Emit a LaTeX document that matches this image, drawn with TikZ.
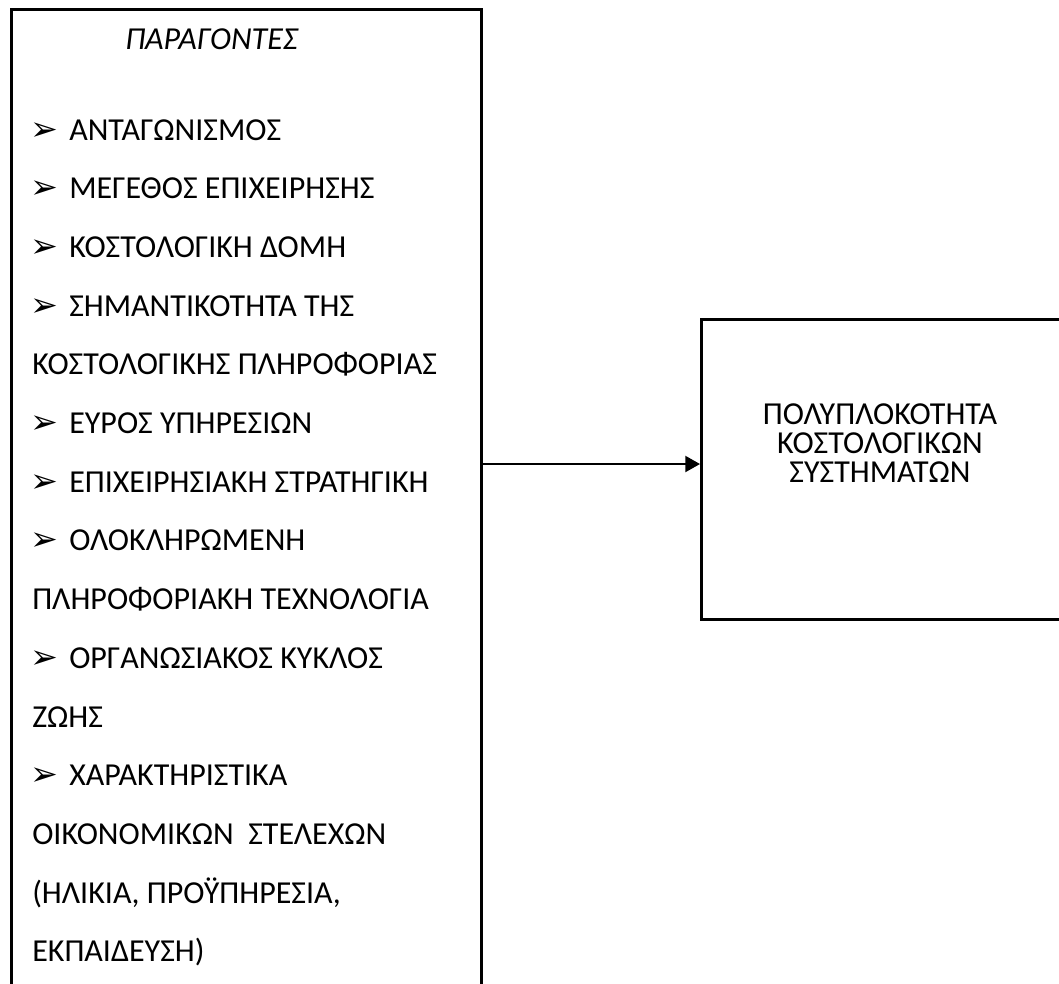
\documentclass[tikz,border=0pt]{standalone}
\usepackage{fontspec}
\setmainfont{Carlito}
\newfontfamily\symfont{DejaVu Sans}
\usetikzlibrary{arrows.meta}
\tikzset{
  frame/.style={draw=black, line width=2.25pt, fill=none},
  item/.style={anchor=base west, inner sep=0pt, font=\fontsize{24}{28}\selectfont},
  bullet/.style={anchor=base west, inner sep=0pt, font=\symfont\fontsize{25}{28}\selectfont},
  ctext/.style={anchor=base, inner sep=0pt, align=center, font=\fontsize{24}{21.4}\selectfont},
  link/.style={line width=1.5pt, -{Triangle[length=11pt,width=12pt]}}
}
\begin{document}
\begin{tikzpicture}[x=0.75pt,y=-0.75pt]
\useasboundingbox (0,0) rectangle (1059,983);
% boxes: the factor list runs past the lower edge, the result box past the right edge
\node[frame, minimum width=470*0.75pt, minimum height=1040*0.75pt, anchor=north west] (factors) at (10,8) {};
\node[frame, minimum width=380*0.75pt, minimum height=300*0.75pt, anchor=north west] (result) at (700,318) {};
% heading
\node[item, font=\fontsize{24}{28}\selectfont\itshape] (title) at (125,49) {ΠΑΡΑΓΟΝΤΕΣ};
% list of factors
\node[bullet] (m0) at (30,140) {➢};
\node[item] (t0) at (69,140) {ΑΝΤΑΓΩΝΙΣΜΟΣ};
\node[bullet] (m1) at (30,198.7) {➢};
\node[item] (t1) at (69,198.7) {ΜΕΓΕΘΟΣ ΕΠΙΧΕΙΡΗΣΗΣ};
\node[bullet] (m2) at (30,257.4) {➢};
\node[item] (t2) at (69,257.4) {ΚΟΣΤΟΛΟΓΙΚΗ ΔΟΜΗ};
\node[bullet] (m3) at (30,316.1) {➢};
\node[item] (t3) at (69,316.1) {ΣΗΜΑΝΤΙΚΟΤΗΤΑ ΤΗΣ};
\node[item] (t4) at (32,374.8) {ΚΟΣΤΟΛΟΓΙΚΗΣ ΠΛΗΡΟΦΟΡΙΑΣ};
\node[bullet] (m5) at (30,433.5) {➢};
\node[item] (t5) at (69,433.5) {ΕΥΡΟΣ ΥΠΗΡΕΣΙΩΝ};
\node[bullet] (m6) at (30,492.2) {➢};
\node[item] (t6) at (69,492.2) {ΕΠΙΧΕΙΡΗΣΙΑΚΗ ΣΤΡΑΤΗΓΙΚΗ};
\node[bullet] (m7) at (30,550.9) {➢};
\node[item] (t7) at (69,550.9) {ΟΛΟΚΛΗΡΩΜΕΝΗ};
\node[item] (t8) at (32,609.6) {ΠΛΗΡΟΦΟΡΙΑΚΗ ΤΕΧΝΟΛΟΓΙΑ};
\node[bullet] (m9) at (30,668.3) {➢};
\node[item] (t9) at (69,668.3) {ΟΡΓΑΝΩΣΙΑΚΟΣ ΚΥΚΛΟΣ};
\node[item] (t10) at (32,727) {ΖΩΗΣ};
\node[bullet] (m11) at (30,785.7) {➢};
\node[item] (t11) at (69,785.7) {ΧΑΡΑΚΤΗΡΙΣΤΙΚΑ};
\node[item] (t12) at (32,844.4) {ΟΙΚΟΝΟΜΙΚΩΝ\ \ ΣΤΕΛΕΧΩΝ};
\node[item] (t13) at (32,903.1) {(ΗΛΙΚΙΑ, ΠΡΟΫΠΗΡΕΣΙΑ,};
\node[item] (t14) at (32,961.8) {ΕΚΠΑΙΔΕΥΣΗ)};
% outcome (base anchor sits on the last line)
\node[ctext] (outcome) at (880,482) {ΠΟΛΥΠΛΟΚΟΤΗΤΑ\\ΚΟΣΤΟΛΟΓΙΚΩΝ\\ΣΥΣΤΗΜΑΤΩΝ};
% influence arrow
\coordinate (lvl) at (0,464);
\draw[link] (factors.east |- lvl) -- (result.west |- lvl);
\end{tikzpicture}
\end{document}
